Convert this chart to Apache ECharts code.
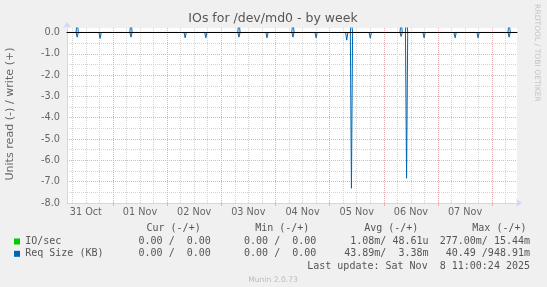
<!DOCTYPE html>
<html><head><meta charset="utf-8">
<script src="https://cdn.jsdelivr.net/npm/echarts@6/dist/echarts.min.js"></script>
<style>html,body{margin:0;padding:0;background:#f0f0f0}#c{width:547px;height:287px}</style>
</head><body><div id="c"></div>
<script>
// ---- data ----
const startTime = '10-31 03:40';
const endTime = '11-08 11:00';
const spikeTimes = ['10-31 08:10','10-31 18:20','11-01 08:00','11-02 08:00','11-02 17:10','11-03 07:50','11-03 20:15','11-04 07:45','11-04 18:00','11-05 07:35','11-05 09:40','11-05 18:00','11-06 07:40','11-06 10:05','11-06 17:50','11-07 07:35','11-07 17:45','11-08 07:30'];
const reqReadValues  = [-0.22,-0.28,-0.22,-0.25,-0.25,-0.22,-0.25,-0.22,-0.25,-0.36,-7.31,-0.27,-0.19,-6.84,-0.25,-0.25,-0.25,-0.22];
const reqWriteValues = [0.6,0,0.6,0,0,0.6,0,0.6,0,0,0.6,0,0.6,0.95,0,0,0,0.6];
const ioReadValues = [];
const ioWriteValues = [];
const dayTickTimes = ['11-01 00:00','11-02 00:00','11-03 00:00','11-04 00:00','11-05 00:00','11-06 00:00','11-07 00:00','11-08 00:00'];
const dayLabelTimes = ['10-31 12:00','11-01 12:00','11-02 12:00','11-03 12:00','11-04 12:00','11-05 12:00','11-06 12:00','11-07 12:00'];
const dayLabels = ['31 Oct','01 Nov','02 Nov','03 Nov','04 Nov','05 Nov','06 Nov','07 Nov'];
const yMin = -8, yMax = 0.21;
const legendHeader = ['Cur (-/+)','Min (-/+)','Avg (-/+)','Max (-/+)'];
const legendNames = ['IO/sec','Req Size (KB)'];
const legendRows = [
  ['0.00 /  0.00','0.00 /  0.00','1.08m/ 48.61u','277.00m/ 15.44m'],
  ['0.00 /  0.00','0.00 /  0.00','43.89m/  3.38m','40.49 /948.91m']
];
const lastUpdate = 'Last update: Sat Nov  8 11:00:24 2025';

// ---- helpers ----
function toMs(s){ const m=s.match(/(\d+)-(\d+) (\d+):(\d+)/); return Date.UTC(2025,+m[1]-1,+m[2],+m[3],+m[4]); }
const START = toMs(startTime), END = toMs(endTime);
const HALF = 30*60*1000;
const dayTicks = dayTickTimes.map(toMs);
const labelTicks = dayLabelTimes.map(toMs);
const minorTicks = [];
for (let d = toMs('10-31 00:00'); d <= END; d += 86400000) {
  [6,12,18].forEach(h => { const t = d + h*3600000; if (t > START && t < END) minorTicks.push(t); });
}
function buildLine(values){
  const d = [[START,0]];
  spikeTimes.forEach((s,i) => { const v = values[i]; if (!v) return; const t = toMs(s); d.push([t-HALF,0],[t,v],[t+HALF,0]); });
  d.push([END,0]);
  return d;
}
const RED = '#e8b0b0', GRAY = '#d4d4d4', AXIS = '#CFD6F8', FONT = '#666666';
const BLUE = '#0066b3', GREEN = '#00cc00';
const SANS = '"DejaVu Sans"', MONO = '"DejaVu Sans Mono"';

const graphic = [
  {type:'text', x:273, y:19, style:{text:'IOs for /dev/md0 - by week', font:'12.5px '+SANS, fill:'#555', textAlign:'center', textVerticalAlign:'middle'}},
  {type:'text', x:10, y:114, rotation:Math.PI/2, style:{text:'Units read (-) / write (+)', font:'11.1px '+SANS, fill:FONT, textAlign:'center', textVerticalAlign:'middle'}},
  {type:'text', x:537, y:53, rotation:-Math.PI/2, style:{text:'RRDTOOL / TOBI OETIKER', font:'7.6px '+SANS, fill:'#c4c4c4', textAlign:'center', textVerticalAlign:'middle'}},
  {type:'text', x:273, y:280, style:{text:'Munin 2.0.73', font:'7.6px '+SANS, fill:'#bbbbbb', textAlign:'center', textVerticalAlign:'middle'}},
  {type:'rect', shape:{x:14, y:238.5, width:6, height:6}, style:{fill:GREEN}},
  {type:'rect', shape:{x:14, y:250.8, width:6, height:6}, style:{fill:BLUE}},
  {type:'text', x:530, y:266, style:{text:lastUpdate, font:'10px '+MONO, fill:'#555', textAlign:'right', textVerticalAlign:'middle'}}
];
const headerX = [146.5, 255.2, 364.2, 472.3];
legendHeader.forEach((h,i) => graphic.push({type:'text', x:headerX[i], y:228.5, style:{text:h, font:'10px '+MONO, fill:'#555', textAlign:'left', textVerticalAlign:'middle'}}));
const rowY = [241.5, 253.8];
const colRight = [210.8, 316.3, 428.5, 530];
legendNames.forEach((n,r) => {
  graphic.push({type:'text', x:25.2, y:rowY[r], style:{text:n, font:'10px '+MONO, fill:'#555', textAlign:'left', textVerticalAlign:'middle'}});
  legendRows[r].forEach((v,c) => graphic.push({type:'text', x:colRight[c], y:rowY[r], style:{text:v, font:'10px '+MONO, fill:'#555', textAlign:'right', textVerticalAlign:'middle'}}));
});

const chart = echarts.init(document.getElementById('c'));
chart.setOption({
  animation:false,
  backgroundColor:'#f0f0f0',
  grid:{left:67, right:30, top:28, bottom:84, show:true, backgroundColor:'#ffffff', borderWidth:0},
  xAxis:[
    {type:'value', min:START, max:END, position:'bottom',
     axisLine:{show:true, onZero:false, lineStyle:{color:AXIS}, symbol:['none','arrow'], symbolSize:[6,6], symbolOffset:[0,5]},
     axisTick:{show:true, customValues:dayTicks, length:3, lineStyle:{color:RED}},
     splitLine:{show:true, lineStyle:{color:RED, type:[1,1]}},
     axisLabel:{customValues:labelTicks, margin:4, color:FONT, fontFamily:SANS, fontSize:9.7,
       formatter:v => { const i = labelTicks.indexOf(v); return i >= 0 ? dayLabels[i] : ''; }}},
    {type:'value', min:START, max:END, position:'bottom',
     axisLine:{show:false, onZero:false}, axisTick:{show:false, customValues:minorTicks}, axisLabel:{show:false},
     splitLine:{show:true, lineStyle:{color:GRAY, type:[1,1]}}},
    {type:'value', min:START, max:END, position:'bottom', z:10,
     axisLine:{show:true, onZero:true, lineStyle:{color:'#000000', width:1}}, axisTick:{show:false}, axisLabel:{show:false}, splitLine:{show:false}}
  ],
  yAxis:{type:'value', min:yMin, max:yMax, interval:0.5,
    axisLine:{show:true, onZero:false, lineStyle:{color:AXIS}, symbol:['none','arrow'], symbolSize:[6,6], symbolOffset:[0,6]},
    axisTick:{show:false},
    axisLabel:{showMaxLabel:false, margin:7, color:FONT, fontFamily:SANS, fontSize:9.7,
      formatter:v => Number.isInteger(v) ? v.toFixed(1) : ''},
    splitLine:{show:true, showMaxLine:false, lineStyle:{color:[RED, GRAY], type:[1,1]}}},
  series:[
    {name:'IO/sec read', type:'line', data:ioReadValues, showSymbol:false, lineStyle:{color:GREEN, width:1}},
    {name:'IO/sec write', type:'line', data:ioWriteValues, showSymbol:false, lineStyle:{color:GREEN, width:1}},
    {name:'Req Size read', type:'line', data:buildLine(reqReadValues), showSymbol:false, lineStyle:{color:BLUE, width:1}, itemStyle:{color:BLUE}},
    {name:'Req Size write', type:'line', data:buildLine(reqWriteValues), showSymbol:false, lineStyle:{color:BLUE, width:1}, itemStyle:{color:BLUE}}
  ],
  graphic:graphic
});
</script></body></html>
